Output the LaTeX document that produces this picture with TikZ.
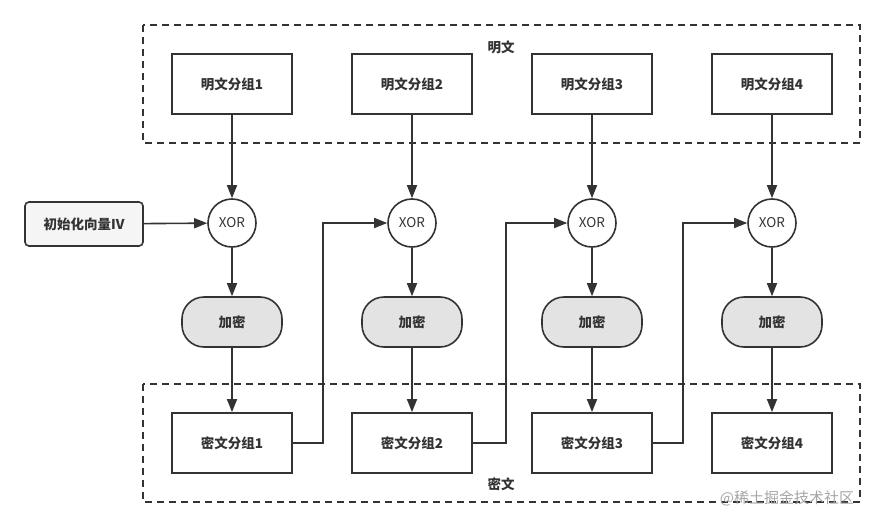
\documentclass[tikz,border=0pt]{standalone}
\usepackage{fontspec}
\newfontfamily\cjk{Noto Sans CJK SC}
\usetikzlibrary{arrows.meta,positioning,shapes.misc}
\definecolor{ln}{HTML}{333333}
\definecolor{encfill}{HTML}{E3E3E3}
\definecolor{ivfill}{HTML}{F5F5F5}
\tikzset{
  every node/.style={font=\cjk\bfseries\fontsize{13.5}{15}\selectfont, text=ln},
  blockbox/.style={draw=ln, line width=1.8pt, minimum width=120pt, minimum height=60pt, inner sep=0pt},
  xorc/.style={draw=ln, line width=1.6pt, circle, minimum size=48pt, inner sep=0pt, font=\cjk\fontsize{13.5}{15}\selectfont},
  encbox/.style={draw=ln, line width=1.6pt, fill=encfill, rounded corners=22pt, minimum width=100pt, minimum height=50pt, inner sep=0pt},
  ivbox/.style={draw=ln, line width=1.6pt, fill=ivfill, rounded corners=4pt, minimum width=118pt, minimum height=44pt, inner sep=0pt},
  group/.style={draw=ln, line width=1.5pt, dash pattern=on 7pt off 5pt},
  flow/.style={draw=ln, line width=1.6pt, -{Triangle[length=13pt,width=10pt]}},
}
\begin{document}
\begin{tikzpicture}[x=1pt,y=-1pt]
\useasboundingbox (0,0) rectangle (885,527);
% groups
\draw[group] (143,25) rectangle (860,143);
\draw[group] (143,384) rectangle (860,502);
\node (plab) at (501,47) {明文};
\node (clab) at (501,484) {密文};
% IV
\node[ivbox] (iv) at (84,224) {初始化向量IV};
% columns
\foreach \i/\x in {1/232,2/412,3/592,4/772}{
  \node[blockbox] (p\i) at (\x,84) {明文分组\i};
  \node[xorc] (x\i) at (\x,223) {XOR};
  \node[encbox] (e\i) at (\x,322) {加密};
  \node[blockbox] (c\i) at (\x,443) {密文分组\i};
  \draw[flow] (p\i) -- (x\i);
  \draw[flow] (x\i) -- (e\i);
  \draw[flow] (e\i) -- (c\i);
}
\draw[flow] (iv) -- (x1);
\coordinate (b1) at (323,0);
\coordinate (b2) at (506,0);
\coordinate (b3) at (683,0);
\draw[flow] (c1.east) -- (b1 |- c1.east) -- (b1 |- x2.west) -- (x2.west);
\draw[flow] (c2.east) -- (b2 |- c2.east) -- (b2 |- x3.west) -- (x3.west);
\draw[flow] (c3.east) -- (b3 |- c3.east) -- (b3 |- x4.west) -- (x4.west);
% watermark
\node[font=\cjk\fontsize{15}{17}\selectfont, text=black!35] (wm) at (787,498) {@稀土掘金技术社区};
\end{tikzpicture}
\end{document}
